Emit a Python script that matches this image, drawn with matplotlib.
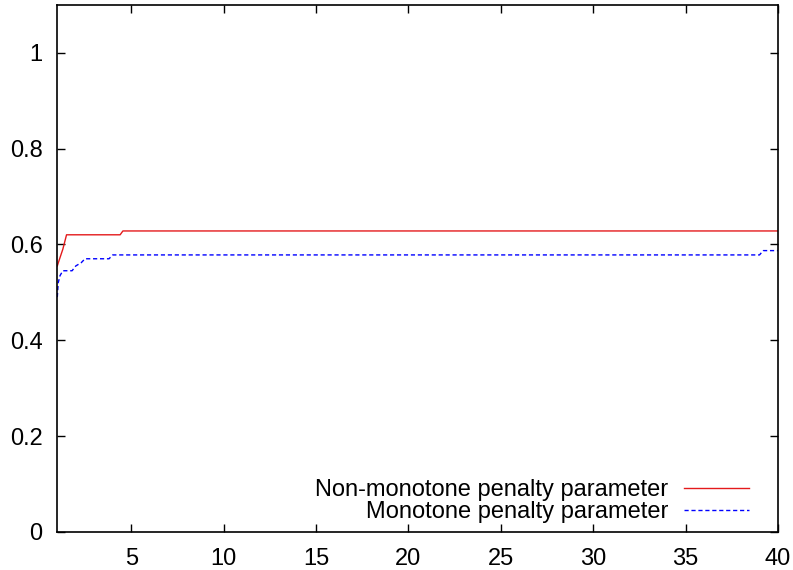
import matplotlib
matplotlib.use("Agg")
import matplotlib.pyplot as plt

# Data
nonmono_x = [1.0, 1.1, 1.3, 1.5, 4.4, 4.55, 40.0]
nonmono_y = [0.555, 0.567, 0.59, 0.62, 0.62, 0.628, 0.628]
mono_x = [1.0, 1.05, 1.15, 1.3, 1.8, 2.0, 2.3, 2.5, 3.8, 4.0, 39.0, 39.2, 40.0]
mono_y = [0.49, 0.52, 0.535, 0.545, 0.545, 0.555, 0.562, 0.57, 0.57, 0.578, 0.578, 0.587, 0.587]
x_ticks = [5, 10, 15, 20, 25, 30, 35, 40]
y_ticks = [0, 0.2, 0.4, 0.6, 0.8, 1]
y_labels = ["0", "0.2", "0.4", "0.6", "0.8", "1"]
labels = ["Non-monotone penalty parameter", "Monotone penalty parameter"]

plt.rcParams['font.family'] = ['Liberation Sans', 'DejaVu Sans']

fig = plt.figure(figsize=(7.93, 5.70), dpi=100)
ax = fig.add_axes([57.3 / 793, (570 - 532) / 570, (778 - 57.3) / 793, (532 - 4.7) / 570])

ax.plot(nonmono_x, nonmono_y, color='#e41a1c', lw=1.0, label=labels[0])
ax.plot(mono_x, mono_y, color='#0000ff', lw=1.0, ls=(0, (3, 2)), label=labels[1])

ax.set_xlim(1, 40)
ax.set_ylim(0, 1.1)
ax.set_xticks(x_ticks)
ax.set_xticklabels([str(t) for t in x_ticks])
ax.set_yticks(y_ticks)
ax.set_yticklabels(y_labels)
ax.tick_params(direction='in', length=6, width=1, labelsize=17, top=True, right=True)
ax.tick_params(axis='y', pad=10.5)
ax.tick_params(axis='x', pad=11.5)
for s in ax.spines.values():
    s.set_linewidth(1.2)

leg = ax.legend(loc='lower right', bbox_to_anchor=(0.9598, 0.017), frameon=False,
                markerfirst=False, fontsize=17, handlelength=2.75, handletextpad=0.68,
                labelspacing=0.0, borderpad=0, borderaxespad=0)

fig.savefig('out.png', dpi=100)
